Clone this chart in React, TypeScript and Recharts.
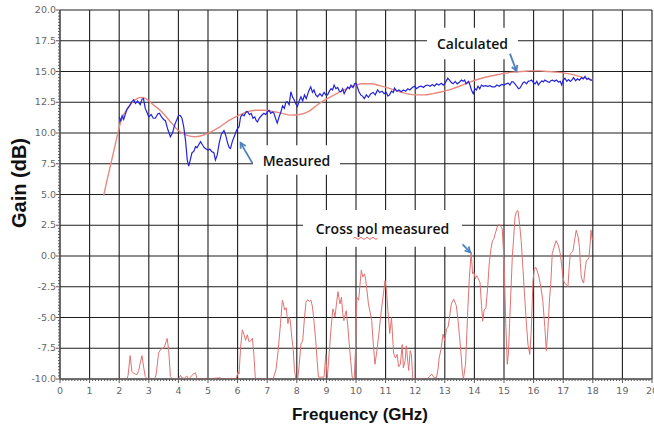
import React from 'react';
import {
  LineChart,
  Line,
  XAxis,
  YAxis,
  CartesianGrid,
  ReferenceArea,
  ReferenceLine,
} from 'recharts';

// ---- axis ticks ----
const X_MAJOR = [0, 1, 2, 3, 4, 5, 6, 7, 8, 9, 10, 11, 12, 13, 14, 15, 16, 17, 18, 19, 20];
const Y_MAJOR = [-10, -7.5, -5, -2.5, 0, 2.5, 5, 7.5, 10, 12.5, 15, 17.5, 20];

// minor ticks: 10 per major division
const X_TICKS: number[] = [];
for (let i = 0; i <= 200; i++) X_TICKS.push(i / 10);
const Y_TICKS: number[] = [];
for (let i = -40; i <= 80; i++) Y_TICKS.push(i / 4);

// ---- calculated gain (smooth) ----
const calcFreq = [
  1.47, 1.7, 1.9, 2.05, 2.2, 2.4, 2.6, 2.75, 2.9, 3.1, 3.4, 3.7, 4.0, 4.3, 4.55, 4.8, 5.1, 5.4,
  5.7, 6.0, 6.3, 6.6, 6.9, 7.2, 7.5, 7.8, 8.1, 8.4, 8.7, 9.0, 9.3, 9.6, 9.9, 10.2, 10.5, 10.8,
  11.1, 11.4, 11.7, 12.0, 12.3, 12.6, 12.9, 13.2, 13.5, 13.8, 14.1, 14.4, 14.7, 15.0, 15.3,
  15.6, 15.9, 16.2, 16.5, 16.8, 17.1, 17.4, 17.7, 18.0,
];
const calcGain = [
  4.9, 7.3, 9.4, 10.9, 11.7, 12.4, 12.8, 12.9, 12.8, 12.4, 11.8, 11.0, 10.2, 9.8, 9.7, 9.8, 10.1,
  10.5, 11.0, 11.4, 11.7, 11.85, 11.85, 11.75, 11.6, 11.45, 11.5, 11.75, 12.3, 12.75, 13.15,
  13.5, 13.8, 14.0, 14.0, 13.85, 13.65, 13.4, 13.2, 13.1, 13.1, 13.2, 13.35, 13.55, 13.8, 14.1,
  14.35, 14.55, 14.7, 14.85, 14.95, 15.0, 15.05, 15.05, 15.0, 14.95, 14.85, 14.7, 14.5, 14.3,
];

// ---- measured gain ----
const measFreq = [
  2.0, 2.05, 2.1, 2.15, 2.26, 2.35, 2.43, 2.49, 2.55, 2.62, 2.71, 2.77, 2.82, 2.88, 2.95, 3.0,
  3.08, 3.15, 3.22, 3.3, 3.36, 3.43, 3.5, 3.56, 3.64, 3.73, 3.8, 3.88, 3.95, 4.01, 4.07, 4.12,
  4.18, 4.24, 4.3, 4.35, 4.41, 4.46, 4.52, 4.58, 4.63, 4.7, 4.75, 4.82, 4.88, 4.94, 5.0, 5.06,
  5.12, 5.2, 5.25, 5.31, 5.38, 5.45, 5.54, 5.6, 5.66, 5.72, 5.76, 5.82, 5.9, 5.98, 6.05, 6.1,
  6.16, 6.22, 6.28, 6.33, 6.4, 6.46, 6.52, 6.58, 6.63, 6.67, 6.73, 6.8, 6.89, 6.95, 7.0, 7.06,
  7.12, 7.18, 7.23, 7.28, 7.34, 7.4, 7.46, 7.52, 7.58, 7.63, 7.68, 7.74, 7.8, 7.86, 7.91, 7.96,
  8.02, 8.08, 8.14, 8.2, 8.26, 8.32, 8.4, 8.47, 8.53, 8.58, 8.64, 8.7, 8.78, 8.85, 8.92, 8.98,
  9.04, 9.1, 9.16, 9.21, 9.26, 9.32, 9.38, 9.44, 9.49, 9.55, 9.6, 9.66, 9.72, 9.78, 9.83, 9.9,
  9.95, 10.0, 10.05, 10.1, 10.16, 10.22, 10.28, 10.35, 10.42, 10.5, 10.58, 10.65, 10.73, 10.8,
  10.88, 10.95, 11.02, 11.08, 11.13, 11.2, 11.26, 11.3, 11.38, 11.45, 11.53, 11.6, 11.68, 11.75,
  11.82, 11.9, 11.98, 12.05, 12.12, 12.2, 12.28, 12.35, 12.43, 12.5, 12.58, 12.65, 12.72, 12.8,
  12.88, 12.95, 13.02, 13.1, 13.16, 13.22, 13.28, 13.35, 13.42, 13.5, 13.56, 13.62, 13.67,
  13.72, 13.8, 13.85, 13.9, 13.96, 14.02, 14.07, 14.12, 14.18, 14.24, 14.3, 14.38, 14.45,
  14.52, 14.6, 14.69, 14.76, 14.84, 14.92, 15.0, 15.07, 15.14, 15.2, 15.26, 15.31, 15.37,
  15.43, 15.49, 15.54, 15.6, 15.65, 15.7, 15.76, 15.82, 15.88, 15.93, 15.99, 16.05, 16.11,
  16.16, 16.22, 16.28, 16.33, 16.38, 16.45, 16.52, 16.58, 16.64, 16.7, 16.77, 16.84, 16.9,
  16.95, 17.0, 17.06, 17.12, 17.18, 17.24, 17.29, 17.35, 17.42, 17.48, 17.55, 17.62, 17.68,
  17.74, 17.8, 17.86, 17.92, 18.0,
];
const measGain = [
  11.3, 11.0, 11.4, 11.1, 11.9, 12.2, 12.55, 12.7, 12.4, 12.6, 12.3, 12.75, 12.8, 12.0, 11.6,
  11.3, 11.5, 11.2, 11.2, 11.55, 11.6, 11.3, 11.1, 11.0, 10.3, 9.7, 10.0, 10.7, 11.1, 11.45,
  11.4, 11.2, 10.5, 9.4, 7.8, 7.3, 7.9, 8.4, 8.5, 8.9, 8.8, 9.1, 9.3, 9.0, 8.8, 8.7, 8.6, 8.7,
  8.5, 8.4, 7.8, 8.2, 9.2, 9.9, 10.2, 9.8, 9.2, 8.8, 8.75, 9.3, 9.8, 10.3, 10.5, 11.3, 11.5,
  11.4, 11.7, 11.75, 11.5, 11.6, 11.2, 11.3, 11.0, 10.9, 11.2, 11.4, 11.6, 11.5, 11.7, 11.85,
  11.6, 11.7, 11.6, 11.2, 10.8, 11.3, 11.7, 12.2, 12.0, 12.5, 12.55, 12.3, 13.35, 12.9, 12.7,
  12.4, 12.15, 12.6, 12.95, 12.6, 13.1, 12.8, 13.4, 13.75, 13.3, 13.5, 13.1, 12.95, 13.2, 13.0,
  13.3, 13.1, 13.1, 13.4, 13.6, 13.5, 13.9, 13.6, 13.7, 13.4, 13.35, 13.6, 13.2, 13.5, 13.75,
  13.6, 13.9, 13.7, 14.0, 14.05, 13.7, 13.35, 13.1, 13.0, 12.8, 13.1, 12.9, 13.2, 13.3, 13.1,
  13.5, 13.3, 13.4, 13.2, 13.3, 13.0, 13.1, 13.4, 13.3, 13.65, 13.4, 13.5, 13.35, 13.5, 13.4,
  13.6, 13.5, 13.7, 13.8, 13.6, 13.75, 13.8, 13.7, 13.85, 13.9, 13.8, 13.95, 13.8, 14.0, 13.9,
  14.05, 13.9, 14.1, 14.45, 14.3, 14.1, 14.0, 14.2, 14.0, 14.15, 14.3, 14.2, 14.3, 14.0, 14.2,
  13.9, 13.5, 13.2, 13.6, 13.5, 13.8, 13.6, 13.9, 13.8, 13.85, 13.8, 13.85, 13.75, 13.75, 13.9,
  13.8, 13.95, 13.9, 14.0, 14.05, 13.9, 14.15, 14.15, 14.0, 13.8, 13.6, 13.65, 13.9, 14.1,
  14.15, 14.0, 14.2, 14.25, 14.3, 14.1, 14.0, 14.2, 13.9, 14.1, 14.25, 14.15, 14.3, 14.2, 14.1,
  14.25, 14.3, 14.2, 14.3, 14.15, 14.2, 13.9, 14.3, 14.45, 14.2, 14.35, 14.2, 14.3, 14.5, 14.25,
  14.4, 14.3, 14.5, 14.4, 14.6, 14.35, 14.45, 14.3, 14.3,
];

// ---- cross-pol measured ----
const xpolFreq = [
  2.0, 2.26, 2.3, 2.37, 2.43, 2.49, 2.55, 2.6, 2.66, 2.72, 2.77, 2.83, 2.88, 2.95, 3.2, 3.25,
  3.33, 3.4, 3.47, 3.53, 3.58, 3.62, 3.67, 3.73, 3.8, 4.0, 4.07, 4.12, 4.2, 4.28, 4.35, 4.5,
  4.58, 4.63, 5.0, 5.4, 5.5, 5.8, 5.95, 6.02, 6.05, 6.1, 6.16, 6.22, 6.27, 6.33, 6.38, 6.44,
  6.5, 6.55, 6.6, 7.2, 7.3, 7.37, 7.45, 7.51, 7.55, 7.59, 7.64, 7.7, 7.74, 7.78, 7.83, 7.88,
  7.92, 7.97, 8.03, 8.08, 8.14, 8.2, 8.26, 8.31, 8.37, 8.42, 8.48, 8.53, 8.58, 8.64, 8.69, 8.73,
  8.92, 8.98, 9.03, 9.07, 9.11, 9.16, 9.22, 9.26, 9.29, 9.34, 9.39, 9.43, 9.46, 9.51, 9.55,
  9.59, 9.63, 9.67, 9.72, 9.76, 9.82, 9.87, 9.94, 9.98, 10.03, 10.09, 10.14, 10.18, 10.23,
  10.29, 10.33, 10.38, 10.42, 10.48, 10.53, 10.58, 10.64, 10.7, 10.76, 10.82, 10.87, 10.93,
  10.98, 11.03, 11.08, 11.14, 11.2, 11.27, 11.33, 11.39, 11.44, 11.5, 11.56, 11.6, 11.66,
  11.7, 11.75, 11.78, 11.83, 11.87, 11.92, 12.4, 12.48, 12.56, 12.64, 12.72, 12.77, 12.81,
  12.87, 12.94, 13.0, 13.06, 13.11, 13.17, 13.22, 13.3, 13.35, 13.39, 13.45, 13.5, 13.55,
  13.59, 13.63, 13.7, 13.75, 13.78, 13.83, 13.89, 13.94, 13.98, 14.03, 14.08, 14.11, 14.16,
  14.19, 14.24, 14.28, 14.33, 14.39, 14.45, 14.5, 14.56, 14.61, 14.66, 14.7, 14.74, 14.78,
  14.83, 14.87, 14.92, 14.94, 14.98, 15.02, 15.06, 15.11, 15.15, 15.19, 15.24, 15.28, 15.33,
  15.37, 15.42, 15.47, 15.53, 15.58, 15.64, 15.7, 15.76, 15.81, 15.87, 15.92, 15.98, 16.02,
  16.07, 16.12, 16.18, 16.25, 16.31, 16.38, 16.43, 16.48, 16.54, 16.58, 16.63, 16.7, 16.76,
  16.83, 16.9, 16.95, 16.99, 17.04, 17.1, 17.16, 17.2, 17.24, 17.29, 17.33, 17.38, 17.44,
  17.5, 17.55, 17.58, 17.61, 17.66, 17.69, 17.74, 17.78, 17.83, 17.87, 17.91, 17.94, 17.98,
];
const xpolGain = [
  -10, -10, -9.7, -8.1, -9.4, -9.55, -9.6, -9.65, -9.3, -8.6, -8.1, -9.1, -9.8, -10, -10, -9.6,
  -7.9, -7.6, -7.5, -7.4, -7.0, -6.7, -7.6, -9.8, -10, -10, -9.7, -9.9, -9.95, -9.75, -10,
  -9.6, -9.5, -10, -10, -9.9, -10, -9.95, -10, -9.4, -9.6, -7.5, -6.0, -6.4, -6.85, -6.4, -6.95,
  -6.9, -6.7, -8.0, -10, -10, -9.2, -7.7, -5.5, -3.6, -3.9, -4.4, -4.2, -5.5, -5.0, -5.25, -6.6,
  -7.6, -9.3, -10, -10, -8.9, -7.15, -6.9, -5.0, -3.75, -3.55, -3.7, -3.6, -4.15, -5.3, -6.9,
  -8.6, -9.85, -9.85, -8.0, -10, -8.6, -7.4, -5.8, -4.3, -4.6, -4.95, -3.9, -2.9, -3.5, -3.9,
  -3.35, -4.6, -5.25, -4.8, -4.45, -5.6, -6.85, -8.5, -9.85, -10, -7.7, -3.35, -3.6, -2.2,
  -1.15, -1.7, -1.45, -2.0, -3.0, -3.9, -4.6, -5.25, -7.0, -8.8, -7.8, -6.6, -5.2, -4.15, -3.0,
  -2.0, -2.8, -4.5, -6.3, -5.0, -7.9, -8.3, -8.0, -9.0, -8.8, -7.2, -9.1, -8.5, -7.3, -8.6,
  -9.3, -7.7, -8.0, -10, -10, -9.8, -9.6, -9.9, -9.9, -9.2, -8.3, -7.6, -6.35, -6.9, -5.9,
  -5.8, -4.8, -3.9, -3.5, -3.8, -4.05, -5.3, -6.6, -8.0, -9.35, -10, -8.8, -6.0, -4.2, -1.75,
  0.3, -1.45, -1.3, -1.85, -1.6, -1.75, -2.0, -2.15, -4.0, -5.3, -4.4, -4.2, -2.5, -0.65, 0.6,
  1.25, 1.4, 1.8, 2.1, 2.45, 2.55, 2.5, 2.3, 2.2, 0.5, -1.8, -5.5, -8.8, -7.9, -5.5, -2.5,
  -0.1, 1.6, 3.15, 3.6, 3.7, 2.5, 1.25, -1.0, -3.4, -5.6, -7.2, -8.0, -6.1, -2.0, -1.1, -0.9,
  -1.2, -1.7, -2.6, -3.6, -5.8, -7.7, -6.1, -3.4, -2.3, 0.2, 0.8, 1.25, 0.9, 0.2, -0.8, -1.7,
  -2.2, -2.3, -2.5, -1.0, 0.2, 0.3, 0.4, 1.2, 2.1, 1.6, 0.7, -0.6, -1.7, -2.1, -2.2, -1.1,
  -0.4, -0.3, -0.1, 1.0, 2.1, 1.3,
];

const zip = (f: number[], g: number[]) => f.map((freq, i) => ({ freq, gain: g[i] }));
const calculated = zip(calcFreq, calcGain);
const measured = zip(measFreq, measGain);
const crossPol = zip(xpolFreq, xpolGain);

// callout boxes (white background behind the text) and their arrows, in axis units
const CALLOUTS = [
  { text: 'Calculated', x1: 12.4, x2: 15.47, y1: 16.0, y2: 18.55, arrow: [{ x: 15.2, y: 16.45 }, { x: 15.42, y: 15.05 }] },
  { text: 'Measured', x1: 6.52, x2: 9.46, y1: 6.6, y2: 9.0, arrow: [{ x: 6.5, y: 7.55 }, { x: 6.1, y: 9.2 }] },
  { text: 'Cross pol measured', x1: 8.21, x2: 13.58, y1: 0.75, y2: 3.75, arrow: [{ x: 13.6, y: 0.95 }, { x: 13.86, y: 0.3 }], squiggle: true },
];

const TICK_FONT = '"DejaVu Sans", sans-serif';
const NOTE_FONT = '"Open Sans", "Noto Sans", sans-serif';
const ARROW_BLUE = '#4f81bd';

const XTick = ({ x, y, payload }: any) => {
  const v = payload.value;
  const major = Math.abs(v - Math.round(v)) < 1e-6;
  return (
    <g>
      <line x1={x} y1={y} x2={x} y2={y + (major ? 4 : 2)} stroke="#555" strokeWidth={1} />
      {major && (
        <text x={x} y={y + 15} textAnchor="middle" fontSize={9.5} fontFamily={TICK_FONT} fill="#666">
          {Math.round(v)}
        </text>
      )}
    </g>
  );
};

const YTick = ({ x, y, payload }: any) => {
  const v = payload.value;
  const major = Math.abs(v / 2.5 - Math.round(v / 2.5)) < 1e-6;
  return (
    <g>
      <line x1={x} y1={y} x2={x - (major ? 4 : 2)} y2={y} stroke="#555" strokeWidth={1} />
      {major && (
        <text x={x - 4} y={y + 3} textAnchor="end" fontSize={9.5} fontFamily={TICK_FONT} fill="#666">
          {v.toFixed(1)}
        </text>
      )}
    </g>
  );
};

const boxLabel = (text: string, squiggle?: boolean) => (props: any) => {
  const { x, y, width, height } = props.viewBox;
  const cx = x + width / 2;
  const cy = y + height / 2;
  return (
    <g>
      <text
        x={cx}
        y={cy}
        textAnchor="middle"
        dominantBaseline="central"
        fontSize={14}
        fontWeight={600}
        fontFamily={NOTE_FONT}
        fill="#111"
      >
        {text}
      </text>
      {squiggle && (
        <path
          d={`M${cx - 29} ${cy + 10} q1.5 -2 3 0 t3 0 t3 0 t3 0 t3 0 t3 0 t3 0 t3 0`}
          fill="none"
          stroke="#e03030"
          strokeWidth={0.8}
        />
      )}
    </g>
  );
};

const Arrow = (props: any) => {
  const { x1, y1, x2, y2 } = props;
  const ang = Math.atan2(y2 - y1, x2 - x1);
  const len = 6;
  const spread = 0.5;
  const ax = x2 - len * Math.cos(ang - spread);
  const ay = y2 - len * Math.sin(ang - spread);
  const bx = x2 - len * Math.cos(ang + spread);
  const by = y2 - len * Math.sin(ang + spread);
  return (
    <g>
      <line x1={x1} y1={y1} x2={x2} y2={y2} stroke={ARROW_BLUE} strokeWidth={1.8} />
      <path d={`M${ax} ${ay} L${x2} ${y2} L${bx} ${by}`} fill="none" stroke={ARROW_BLUE} strokeWidth={1.8} />
    </g>
  );
};

const vGrid = ({ xAxis, offset }: any) =>
  X_MAJOR.map((v) =>
    xAxis && typeof xAxis.scale === 'function' ? xAxis.scale(v) : offset.left + (v / 20) * offset.width
  );
const hGrid = ({ yAxis, offset }: any) =>
  Y_MAJOR.map((v) =>
    yAxis && typeof yAxis.scale === 'function'
      ? yAxis.scale(v)
      : offset.top + ((20 - v) / 30) * offset.height
  );

export default function App() {
  return (
    <div style={{ position: 'absolute', left: 0, top: 0, width: 654, height: 427, background: '#fff' }}>
      <LineChart width={654} height={427} margin={{ top: 10, right: 2, bottom: 0, left: 0 }}>
        <CartesianGrid
          stroke="#1e1e1e"
          strokeWidth={1.1}
          verticalCoordinatesGenerator={vGrid}
          horizontalCoordinatesGenerator={hGrid}
        />
        <XAxis
          type="number"
          dataKey="freq"
          domain={[0, 20]}
          ticks={X_TICKS}
          interval={0}
          allowDataOverflow
          height={48}
          tickSize={0}
          tickMargin={0}
          tickLine={false}
          tick={<XTick />}
          axisLine={{ stroke: '#555' }}
          label={{
            content: (p: any) => (
              <text
                x={p.viewBox.x + p.viewBox.width / 2 + 4}
                y={420}
                textAnchor="middle"
                fontSize={17}
                fontWeight="bold"
                fontFamily='"Liberation Sans", Arial, sans-serif'
                fill="#111"
              >
                Frequency (GHz)
              </text>
            ),
          }}
        />
        <YAxis
          type="number"
          dataKey="gain"
          domain={[-10, 20]}
          ticks={Y_TICKS}
          interval={0}
          allowDataOverflow
          width={60}
          tickSize={0}
          tickMargin={0}
          tickLine={false}
          tick={<YTick />}
          axisLine={{ stroke: '#555' }}
          label={{
            content: () => (
              <text
                x={19}
                y={183}
                transform="rotate(-90 19 183)"
                textAnchor="middle"
                dominantBaseline="central"
                fontSize={20}
                fontWeight="bold"
                fontFamily='"Liberation Sans", Arial, sans-serif'
                fill="#111"
              >
                Gain (dB)
              </text>
            ),
          }}
        />
        {CALLOUTS.map((c) => (
          <ReferenceArea
            key={c.text}
            x1={c.x1}
            x2={c.x2}
            y1={c.y1}
            y2={c.y2}
            fill="#fff"
            fillOpacity={1}
            stroke="none"
            label={boxLabel(c.text, c.squiggle)}
          />
        ))}
        <Line
          data={crossPol}
          dataKey="gain"
          type="linear"
          stroke="#e07272"
          strokeWidth={1}
          dot={false}
          isAnimationActive={false}
        />
        <Line
          data={calculated}
          dataKey="gain"
          type="monotone"
          stroke="#e8897e"
          strokeWidth={1.4}
          dot={false}
          isAnimationActive={false}
        />
        <Line
          data={measured}
          dataKey="gain"
          type="linear"
          stroke="#2424d8"
          strokeWidth={1.2}
          dot={false}
          isAnimationActive={false}
        />
        {CALLOUTS.map((c) => (
          <ReferenceLine
            key={c.text + '-arrow'}
            segment={c.arrow}
            stroke={ARROW_BLUE}
            shape={Arrow}
          />
        ))}
      </LineChart>
    </div>
  );
}
